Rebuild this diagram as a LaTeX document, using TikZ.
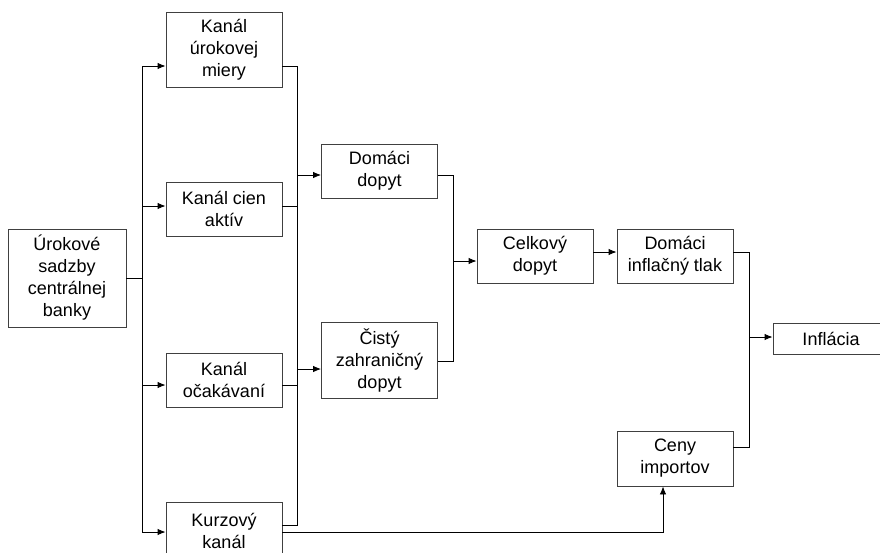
\documentclass[tikz,border=0pt]{standalone}
\usepackage{fontspec}
\setmainfont{Liberation Sans}
\usetikzlibrary{arrows.meta,positioning}

\tikzset{
  box/.style={draw=black!75, line width=0.9pt, rectangle, align=center,
    minimum width=116pt, inner sep=2pt,
    font=\fontsize{18}{22}\selectfont},
}

\begin{document}
\begin{tikzpicture}[x=1pt,y=-1pt,line width=0.9pt,>={Latex[length=8pt,width=6.5pt]}]
   \useasboundingbox (0,0) rectangle (880,552);
   \node[box,minimum width=118pt,minimum height=98pt] (sadzby) at (67,278) {Úrokové\\sadzby\\centrálnej\\banky};
   \node[box,minimum height=75pt] (kanurok) at (224,49.5) {Kanál\\úrokovej\\miery};
   \node[box,minimum height=54pt] (kancien) at (224,209) {Kanál cien\\aktív};
   \node[box,minimum height=54pt] (kanocak) at (224,380) {Kanál\\očakávaní};
   \node[box,minimum height=58pt] (kankurz) at (224,531) {Kurzový\\kanál};
   \node[box,minimum height=54pt] (domdop) at (379.5,171) {Domáci\\dopyt};
   \node[box,minimum height=76pt] (cistdop) at (379.5,360) {Čistý\\zahraničný\\dopyt};
   \node[box,minimum height=54pt] (celdop) at (535,256) {Celkový\\dopyt};
   \node[box,minimum height=54pt] (domtlak) at (675,256) {Domáci\\inflačný tlak};
   \node[box,minimum height=55pt] (ceny) at (675,458.5) {Ceny\\importov};
   \node[box,minimum height=31pt] (inflacia) at (831,338.5) {Inflácia};

   % centralna banka -> kanaly
   \draw (sadzby.east) -- ++(16,0) coordinate (b1);
   \draw[->] (b1) |- ([yshift=-16.5pt]kanurok.west);
   \draw[->] (b1) |- ([yshift=3pt]kancien.west);
   \draw[->] (b1) |- ([yshift=-5pt]kanocak.west);
   \draw[->] (b1) |- ([yshift=-1pt]kankurz.west);

   % kanaly -> dopyt
   \draw ([yshift=-16.5pt]kanurok.east) -- ++(15,0) coordinate (b2) |- ([yshift=6pt]kankurz.east);
   \draw ([yshift=3pt]kancien.east) -- ++(15,0);
   \draw ([yshift=-5pt]kanocak.east) -- ++(15,0);
   \draw[->] (b2) |- ([yshift=-4pt]domdop.west);
   \draw[->] (b2) |- ([yshift=-9pt]cistdop.west);
   \draw[->] ([yshift=-1pt]kankurz.east) -| ([xshift=-12pt]ceny.south);

   % dopyt -> celkovy dopyt
   \draw ([yshift=-4pt]domdop.east) -- ++(15,0) coordinate (b3) |- ([yshift=-1pt]cistdop.east);
   \draw[->] (b3) |- ([yshift=-5pt]celdop.west);
   \draw[->] ([yshift=4pt]celdop.east) -- ([yshift=4pt]domtlak.west);

   % inflacia
   \draw ([yshift=4pt]domtlak.east) -- ++(16,0) coordinate (b4) |- ([yshift=11.5pt]ceny.east);
   \draw[->] (b4) |- ([yshift=1.5pt]inflacia.west);
\end{tikzpicture}
\end{document}
